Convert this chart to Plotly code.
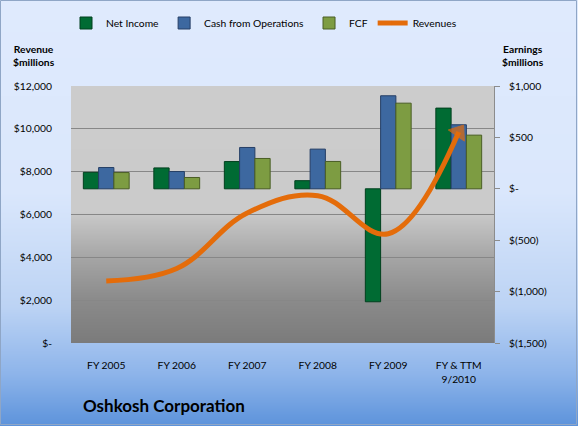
import base64, struct, zlib
import plotly.graph_objects as go

# ---------------- data ----------------
categories = ["FY 2005", "FY 2006", "FY 2007", "FY 2008", "FY 2009", "FY & TTM<br>9/2010"]
net_income = [160, 203, 265, 79, -1099, 785]
cash_from_ops = [207, 168, 402, 386, 905, 623]
fcf = [158, 110, 295, 266, 833, 522]
revenues = [2900, 3480, 6070, 6880, 5100, 9850]

rev_ticks = [0, 2000, 4000, 6000, 8000, 10000, 12000]
rev_ticktext = ["$-", "$2,000", "$4,000", "$6,000", "$8,000", "$10,000", "$12,000"]
earn_ticks = [-1500, -1000, -500, 0, 500, 1000]
earn_ticktext = ["$(1,500)", "$(1,000)", "$(500)", "$-", "$500", "$1,000"]

# ---------------- geometry ----------------
W, H = 578, 426
ML, MR, MT, MB = 71, 84, 86, 83
PW, PH = W - ML - MR, H - MT - MB

FONT = "Lato"
FS = 10.3


def hex2rgb(h):
    h = h.lstrip("#")
    return tuple(int(h[i:i + 2], 16) for i in (0, 2, 4))


def gradient_uri(stops, n):
    rows = []
    for i in range(n):
        t = i / (n - 1)
        for j in range(len(stops) - 1):
            t0, c0 = stops[j]
            t1, c1 = stops[j + 1]
            if t0 <= t <= t1:
                f = 0 if t1 == t0 else (t - t0) / (t1 - t0)
                a, b = hex2rgb(c0), hex2rgb(c1)
                rows.append(tuple(round(a[k] + (b[k] - a[k]) * f) for k in range(3)))
                break
    raw = b"".join(b"\x00" + bytes(c) * 2 for c in rows)

    def chunk(tag, data):
        c = struct.pack(">I", len(data)) + tag + data
        return c + struct.pack(">I", zlib.crc32(tag + data) & 0xFFFFFFFF)

    png = b"\x89PNG\r\n\x1a\n" + chunk(b"IHDR", struct.pack(">IIBBBBB", 2, n, 8, 2, 0, 0, 0))
    png += chunk(b"IDAT", zlib.compress(raw)) + chunk(b"IEND", b"")
    return "data:image/png;base64," + base64.b64encode(png).decode()


outer_bg = gradient_uri([(0, "#dfeafd"), (0.45, "#dae7fc"), (0.72, "#bcd3f4"),
                         (0.88, "#8db4ea"), (1, "#5d93db")], H)
plot_bg = gradient_uri([(0, "#cccccc"), (0.49, "#cbcbcb"), (0.51, "#c6c6c6"),
                        (0.67, "#a5a5a5"), (0.83, "#8b8b8b"), (1, "#7b7b7b")], PH)

fig = go.Figure()
fig.add_trace(go.Bar(name="Net Income", x=categories, y=net_income, yaxis="y",
                     marker=dict(color="#006b33", line=dict(color="#00401e", width=1))))
fig.add_trace(go.Bar(name="Cash from Operations", x=categories, y=cash_from_ops, yaxis="y",
                     marker=dict(color="#3d68a0", line=dict(color="#263f66", width=1))))
fig.add_trace(go.Bar(name="FCF", x=categories, y=fcf, yaxis="y",
                     marker=dict(color="#7d9c42", line=dict(color="#4a5e25", width=1))))
n = len(revenues)
fig.add_trace(go.Scatter(name="Revenues", x=categories, y=revenues, yaxis="y2",
                         mode="lines+markers",
                         line=dict(color="#e46c0a", width=5, shape="spline", smoothing=1.1),
                         marker=dict(symbol="triangle-up", angleref="previous", color="#e46c0a",
                                     size=[0] * (n - 1) + [17],
                                     line=dict(color="#e46c0a", width=1))))

fig.update_layout(
    width=W, height=H,
    margin=dict(l=ML, r=MR, t=MT, b=MB),
    paper_bgcolor="#dfeafd", plot_bgcolor="rgba(0,0,0,0)",
    font=dict(family=FONT, size=FS, color="#000000"),
    barmode="group", bargap=0.35, bargroupgap=0,
    showlegend=True,
    legend=dict(orientation="h", x=66 / W, xref="container", y=1 - 23 / H, yref="container",
                yanchor="middle", xanchor="left", bgcolor="rgba(0,0,0,0)",
                font=dict(family=FONT, size=FS), itemwidth=30, traceorder="normal"),
    xaxis=dict(showgrid=False, showline=False, ticks="", ticklabelstandoff=15,
               tickfont=dict(family=FONT, size=FS), fixedrange=True),
    yaxis=dict(side="right", range=[-1500, 1000], tickvals=earn_ticks, ticktext=earn_ticktext,
               showgrid=False, zeroline=False, showline=True, linecolor="#8c8c8c", linewidth=1,
               ticks="outside", ticklen=5, tickcolor="#8c8c8c", ticklabelstandoff=7,
               tickfont=dict(family=FONT, size=FS)),
    yaxis2=dict(side="left", overlaying="y", anchor="x", range=[0, 12000], tickvals=rev_ticks,
                ticktext=rev_ticktext, showgrid=True, gridcolor="#878787", gridwidth=1,
                zeroline=False, showline=False, ticks="", ticklabelstandoff=18,
                tickfont=dict(family=FONT, size=FS)),
    images=[
        dict(source=outer_bg, xref="paper", yref="paper", x=-ML / PW, y=1 + MT / PH,
             sizex=W / PW, sizey=H / PH, sizing="stretch", layer="below",
             xanchor="left", yanchor="top"),
        dict(source=plot_bg, xref="paper", yref="paper", x=0, y=1, sizex=1, sizey=1,
             sizing="stretch", layer="below", xanchor="left", yanchor="top"),
    ],
    shapes=[
        dict(type="rect", xref="paper", yref="paper",
             x0=(-ML + 0.5) / PW, x1=1 + (MR - 1.5) / PW, y0=(-MB + 1.5) / PH, y1=1 + (MT - 0.5) / PH,
             line=dict(color="#8fa6c6", width=1), fillcolor="rgba(0,0,0,0)", layer="above"),
    ],
    annotations=[
        dict(text="<b>Revenue<br>$millions</b>", xref="paper", yref="paper",
             x=(34 - ML) / PW, y=1 + (MT - 56) / PH, showarrow=False, align="center",
             xanchor="center", yanchor="middle", font=dict(family=FONT, size=FS)),
        dict(text="<b>Earnings<br>$millions</b>", xref="paper", yref="paper",
             x=(523 - ML) / PW, y=1 + (MT - 56) / PH, showarrow=False, align="center",
             xanchor="center", yanchor="middle", font=dict(family=FONT, size=FS)),
        dict(text="<b>Oshkosh Corporation</b>", xref="paper", yref="paper",
             x=(81 - ML) / PW, y=-(405 - MT - PH) / PH, showarrow=False, xanchor="left",
             yanchor="middle", font=dict(family=FONT, size=17)),
    ],
)

fig.write_html("out.html")
